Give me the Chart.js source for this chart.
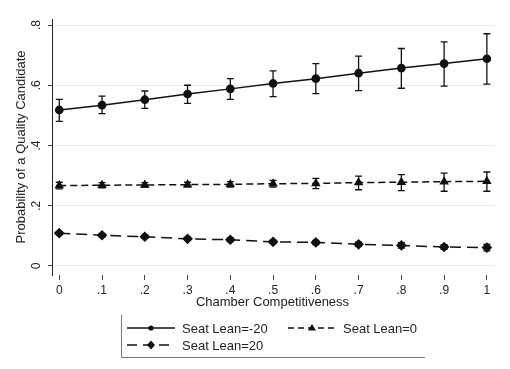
<!DOCTYPE html>
<html>
<head>
<meta charset="utf-8">
<script src="https://cdn.jsdelivr.net/npm/chart.js@4"></script>
<style>
  html, body { margin: 0; padding: 0; background: #fff; }
  #wrap { width: 510px; height: 369px; }
</style>
</head>
<body>
<div id="wrap"><canvas id="myChart"></canvas></div>
<script>
// Datos
const xValues = [0, 0.1, 0.2, 0.3, 0.4, 0.5, 0.6, 0.7, 0.8, 0.9, 1];
const xTickLabels = ["0", ".1", ".2", ".3", ".4", ".5", ".6", ".7", ".8", ".9", "1"];
const yTickValues = [0, 0.2, 0.4, 0.6, 0.8];
const yTickLabels = ["0", ".2", ".4", ".6", ".8"];

const leanNeg20 = [0.518, 0.534, 0.552, 0.571, 0.588, 0.606, 0.622, 0.640, 0.657, 0.672, 0.688];
const leanNeg20Lo = [0.480, 0.506, 0.523, 0.540, 0.553, 0.562, 0.572, 0.582, 0.590, 0.597, 0.604];
const leanNeg20Hi = [0.553, 0.564, 0.581, 0.600, 0.622, 0.648, 0.672, 0.697, 0.722, 0.744, 0.771];

const lean0 = [0.267, 0.268, 0.269, 0.270, 0.271, 0.273, 0.274, 0.277, 0.278, 0.280, 0.281];
const lean0Lo = [0.256, 0.259, 0.262, 0.263, 0.262, 0.262, 0.257, 0.253, 0.250, 0.248, 0.248];
const lean0Hi = [0.278, 0.277, 0.277, 0.278, 0.280, 0.284, 0.291, 0.298, 0.303, 0.308, 0.312];

const lean20 = [0.109, 0.102, 0.097, 0.090, 0.087, 0.080, 0.078, 0.072, 0.068, 0.063, 0.061];
const lean20Lo = [0.104, 0.097, 0.092, 0.085, 0.081, 0.074, 0.071, 0.065, 0.059, 0.055, 0.050];
const lean20Hi = [0.114, 0.107, 0.102, 0.095, 0.093, 0.086, 0.085, 0.079, 0.077, 0.071, 0.072];

const seriesNames = ["Seat Lean=-20", "Seat Lean=0", "Seat Lean=20"];
const xTitle = "Chamber Competitiveness";
const yTitle = "Probability of a Quality Candidate";

const FONT = '"Liberation Sans", Arial, sans-serif';
const INK = '#111';

function toPoints(ys) {
    return xValues.map((x, i) => ({ x: x, y: ys[i] }));
}

// Barras de error + textos estilo Stata
const stataPlugin = {
    id: 'stata',
    afterDatasetsDraw(chart) {
        const ctx = chart.ctx;
        const xs = chart.scales.x, ys = chart.scales.y;
        const bands = [[leanNeg20Lo, leanNeg20Hi], [lean0Lo, lean0Hi], [lean20Lo, lean20Hi]];
        ctx.save();
        ctx.strokeStyle = INK;
        ctx.lineWidth = 1.3;
        bands.forEach(b => {
            xValues.forEach((x, i) => {
                const px = xs.getPixelForValue(x);
                const p1 = ys.getPixelForValue(b[0][i]);
                const p2 = ys.getPixelForValue(b[1][i]);
                ctx.beginPath();
                ctx.moveTo(px, p1); ctx.lineTo(px, p2);
                ctx.moveTo(px - 3.5, p1); ctx.lineTo(px + 3.5, p1);
                ctx.moveTo(px - 3.5, p2); ctx.lineTo(px + 3.5, p2);
                ctx.stroke();
            });
        });
        ctx.restore();
    },
    afterDraw(chart) {
        const ctx = chart.ctx;
        const ys = chart.scales.y, xs = chart.scales.x;
        ctx.save();
        ctx.fillStyle = '#222';
        // etiquetas del eje y, giradas
        ctx.font = '12px ' + FONT;
        ctx.textAlign = 'center';
        ctx.textBaseline = 'middle';
        yTickValues.forEach((v, i) => {
            ctx.save();
            ctx.translate(37, ys.getPixelForValue(v));
            ctx.rotate(-Math.PI / 2);
            ctx.fillText(yTickLabels[i], 0, 0);
            ctx.restore();
        });
        // títulos
        ctx.font = '13px ' + FONT;
        ctx.save();
        ctx.translate(21, (chart.chartArea.top + chart.chartArea.bottom) / 2);
        ctx.rotate(-Math.PI / 2);
        ctx.fillText(yTitle, 0, 0);
        ctx.restore();
        ctx.fillText(xTitle, (xs.left + xs.right) / 2 - 1, 302);

        // leyenda
        ctx.strokeStyle = '#777';
        ctx.lineWidth = 1;
        ctx.beginPath();
        ctx.moveTo(121.5, 315); ctx.lineTo(121.5, 357.5); ctx.lineTo(425, 357.5);
        ctx.stroke();

        const entries = [
            { x: 127, y: 328, dash: [], marker: 'circle', label: seriesNames[0] },
            { x: 288, y: 328, dash: [6, 4], marker: 'triangle', label: seriesNames[1] },
            { x: 127, y: 345, dash: [10, 6], marker: 'diamond', label: seriesNames[2] }
        ];
        entries.forEach(e => {
            ctx.strokeStyle = INK;
            ctx.fillStyle = INK;
            ctx.lineWidth = 1.4;
            ctx.setLineDash(e.dash);
            ctx.beginPath();
            ctx.moveTo(e.x, e.y); ctx.lineTo(e.x + 48, e.y);
            ctx.stroke();
            ctx.setLineDash([]);
            const mx = e.x + 24;
            ctx.beginPath();
            if (e.marker === 'circle') {
                ctx.arc(mx, e.y, 2.6, 0, Math.PI * 2);
            } else if (e.marker === 'triangle') {
                ctx.moveTo(mx, e.y - 4); ctx.lineTo(mx + 4, e.y + 2.5); ctx.lineTo(mx - 4, e.y + 2.5);
                ctx.closePath();
            } else {
                ctx.moveTo(mx, e.y - 4.5); ctx.lineTo(mx + 4, e.y); ctx.lineTo(mx, e.y + 4.5); ctx.lineTo(mx - 4, e.y);
                ctx.closePath();
            }
            ctx.fill();
            ctx.fillStyle = '#222';
            ctx.font = '13px ' + FONT;
            ctx.textAlign = 'left';
            ctx.fillText(e.label, e.x + 55, e.y + 1);
        });
        ctx.restore();
    }
};

const ctx = document.getElementById('myChart').getContext('2d');
const myChart = new Chart(ctx, {
    type: 'line',
    data: {
        datasets: [{
            label: seriesNames[0],
            data: toPoints(leanNeg20),
            borderColor: INK,
            backgroundColor: INK,
            borderWidth: 1.5,
            pointStyle: 'circle',
            pointRadius: 3.6,
            tension: 0
        }, {
            label: seriesNames[1],
            data: toPoints(lean0),
            borderColor: INK,
            backgroundColor: INK,
            borderWidth: 1.5,
            borderDash: [7, 4],
            pointStyle: 'triangle',
            pointRadius: 4,
            tension: 0
        }, {
            label: seriesNames[2],
            data: toPoints(lean20),
            borderColor: INK,
            backgroundColor: INK,
            borderWidth: 1.5,
            borderDash: [11, 6],
            pointStyle: 'rectRot',
            pointRadius: 4.3,
            tension: 0
        }]
    },
    options: {
        responsive: true,
        maintainAspectRatio: false,
        animation: false,
        layout: {
            padding: { left: 0, right: 15, top: 19, bottom: 0 }
        },
        scales: {
            x: {
                type: 'linear',
                min: -0.017,
                max: 1.019,
                afterBuildTicks: function (scale) {
                    scale.ticks = xValues.map(v => ({ value: v }));
                },
                afterFit: function (scale) {
                    scale.height = 94;
                },
                border: { display: false },
                grid: {
                    drawOnChartArea: false,
                    drawTicks: true,
                    tickLength: 5,
                    color: '#444',
                    lineWidth: 1
                },
                ticks: {
                    padding: 3,
                    maxRotation: 0,
                    color: '#222',
                    font: { family: FONT, size: 12 },
                    callback: function (value, index) {
                        return xTickLabels[index];
                    }
                }
            },
            y: {
                type: 'linear',
                min: -0.03,
                max: 0.82,
                afterBuildTicks: function (scale) {
                    scale.ticks = yTickValues.map(v => ({ value: v }));
                },
                afterFit: function (scale) {
                    scale.width = 52;
                },
                border: { display: true, color: '#222', width: 1 },
                grid: {
                    color: '#ececec',
                    lineWidth: 1,
                    drawTicks: true,
                    tickLength: 4,
                    tickColor: '#444'
                },
                ticks: { display: false }
            }
        },
        plugins: {
            legend: { display: false },
            tooltip: { enabled: false }
        }
    },
    plugins: [stataPlugin]
});
</script>
</body>
</html>
